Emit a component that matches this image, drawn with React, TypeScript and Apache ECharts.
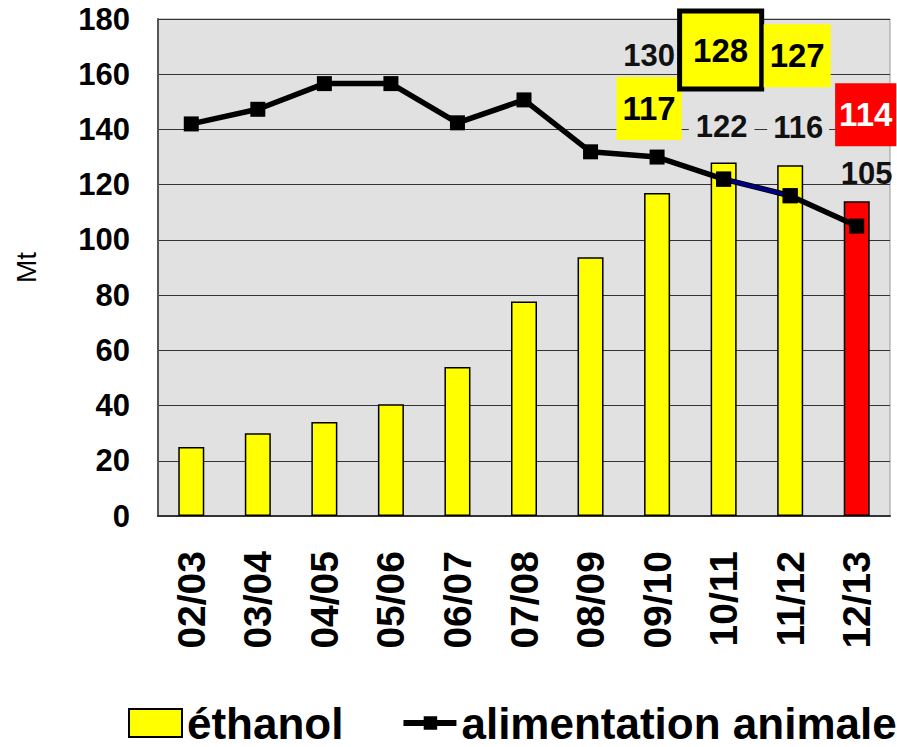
import React, { useEffect, useRef } from "react";
import * as echarts from "echarts";

const categories = ["02/03", "03/04", "04/05", "05/06", "06/07", "07/08", "08/09", "09/10", "10/11", "11/12", "12/13"];
const ethanol = [25, 30, 34, 40.5, 54, 77.7, 93.7, 117, 128, 127, 114];
const feed = [142, 147.3, 156.6, 156.6, 142.4, 150.7, 131.9, 130, 122, 116, 105];
const yTicks = { min: 0, max: 180, interval: 20 };

const FONT = 'Arial, "Liberation Sans", sans-serif';
const LINE_ICON = "path://M0,11 L21,11 L21,7 L35,7 L35,11 L55,11 L55,17 L35,17 L35,21 L21,21 L21,17 L0,17 Z";

export default function App() {
  const ref = useRef<HTMLDivElement>(null);
  useEffect(() => {
    if (!ref.current) return;
    const chart = echarts.init(ref.current, undefined, { renderer: "svg" });

    const barLabels: Record<number, any> = {
      7: { backgroundColor: "#ffff00", padding: [15, 6], offset: [-8, -53] },
      8: { backgroundColor: "#ffff00", padding: [20, 11], borderColor: "#000", borderWidth: 5, offset: [-3, -76] },
      9: { backgroundColor: "#ffff00", padding: [15, 6], offset: [7, -78] },
      10: { backgroundColor: "#ff0000", color: "#ffffff", padding: [15, 4], offset: [9, -55] },
    };
    const barData = ethanol.map((v, i) => {
      const item: any = { value: v };
      if (i === ethanol.length - 1) item.itemStyle = { color: "#ff0000" };
      if (barLabels[i]) {
        item.label = {
          show: true,
          position: "top",
          distance: 0,
          fontSize: 33,
          fontWeight: "bold",
          fontFamily: FONT,
          color: "#000",
          lineHeight: 33,
          ...barLabels[i],
        };
      }
      return item;
    });

    const lineLabels: Record<number, any> = {
      7: { offset: [-8, -102] },
      8: { offset: [-2, -53], backgroundColor: "#e1e1e1", padding: [3, 7] },
      9: { offset: [8, -68], backgroundColor: "#e1e1e1", padding: [3, 6] },
      10: { offset: [10, -53] },
    };
    const lineData = feed.map((v, i) => {
      const item: any = { value: v };
      if (lineLabels[i]) {
        item.label = {
          show: true,
          position: "inside",
          fontSize: 31,
          fontWeight: "bold",
          fontFamily: FONT,
          color: "#111",
          ...lineLabels[i],
        };
      }
      return item;
    });
    const segData = feed.map((v, i) => (i === 8 || i === 9 ? v : "-"));

    chart.setOption({
      animation: false,
      backgroundColor: "#ffffff",
      textStyle: { fontFamily: FONT },
      grid: {
        left: 158,
        right: 7,
        top: 19,
        bottom: 231,
        containLabel: false,
        outerBoundsMode: "none",
        show: true,
        backgroundColor: "#e1e1e1",
        borderColor: "#999999",
        borderWidth: 1,
      },
      legend: {
        data: [
          { name: "éthanol", icon: "rect" },
          { name: "alimentation animale", icon: LINE_ICON },
        ],
        left: 123,
        top: 696,
        width: 775,
        itemWidth: 53,
        itemHeight: 28,
        itemGap: 60,
        textStyle: { fontSize: 44, lineHeight: 40, fontWeight: "bold", color: "#000", fontFamily: FONT },
      },
      xAxis: {
        type: "category",
        data: categories,
        axisLine: { lineStyle: { color: "#333", width: 2 } },
        axisTick: { show: false },
        axisLabel: {
          rotate: 90,
          margin: 35,
          fontSize: 39,
          fontWeight: "bold",
          color: "#000",
          fontFamily: FONT,
          interval: 0,
        },
      },
      yAxis: {
        type: "value",
        min: yTicks.min,
        max: yTicks.max,
        interval: yTicks.interval,
        name: "Mt",
        nameLocation: "middle",
        nameRotate: 90,
        nameGap: 118,
        nameTextStyle: { fontSize: 28, color: "#000", fontFamily: FONT },
        axisLine: { show: true, lineStyle: { color: "#555", width: 2 } },
        axisTick: { show: false },
        splitLine: { lineStyle: { color: "#333", width: 1.2 } },
        axisLabel: { margin: 28, fontSize: 31, fontWeight: "bold", color: "#000", fontFamily: FONT },
      },
      series: [
        {
          name: "éthanol",
          type: "bar",
          data: barData,
          barWidth: 26,
          itemStyle: { color: "#ffff00", borderColor: "#000", borderWidth: 1.5 },
          z: 2,
        },
        {
          name: "alimentation animale",
          type: "line",
          data: lineData,
          symbol: "rect",
          symbolSize: 15,
          itemStyle: { color: "#000" },
          lineStyle: { color: "#000", width: 5.5 },
          z: 3,
        },
        {
          name: "seg",
          type: "line",
          data: segData,
          symbol: "rect",
          symbolSize: 15,
          itemStyle: { color: "#000" },
          lineStyle: { color: "#000080", width: 4 },
          z: 4,
          silent: true,
        },
      ],
    });
    return () => chart.dispose();
  }, []);
  return <div ref={ref} style={{ width: 897, height: 747, position: "absolute", left: 0, top: 0 }} />;
}
